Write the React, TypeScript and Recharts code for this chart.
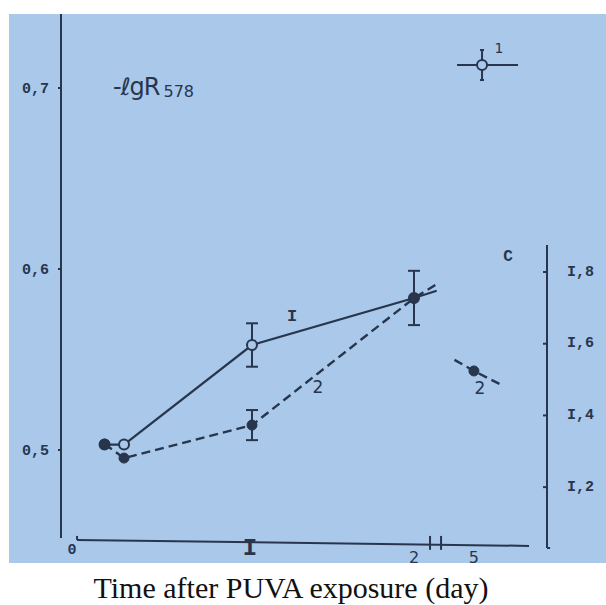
import React from 'react';
import { ComposedChart, Line, XAxis, YAxis, ReferenceLine, ReferenceDot, ErrorBar } from 'recharts';

// x is in axis units: days up to 2, then the axis is broken and day 5 sits at 2.37
const xTickPos = [0, 1, 2, 2.37];
const xTickLabels = ['0', 'I', '2', '5'];
const leftTicks = [0.5, 0.6, 0.7];
const rightTicks = [1.2, 1.4, 1.6, 1.8];

// curve 1: -lgR578 (left axis), solid
const curve1X = [0.09, 0.21, 1, 2, 2.14];
const curve1Y = [0.503, 0.503, 0.558, 0.584, 0.588];
const curve1Err = [0, 0, 0.012, 0.015, 0];

// curve 2: C (right axis), dashed
const curve2X = [0.09, 0.21, 1, 2, 2.15];
const curve2C = [1.32, 1.281, 1.373, 1.727, 1.769];
const curve2Err = [0, 0, 0.042, 0, 0];

// curve 2 after the break (day 5)
const day5X = [2.25, 2.37, 2.54];
const day5C = [1.555, 1.524, 1.485];

const xDomain = [-0.179, 2.821];
const leftDomain = [0.4486, 0.7409];
const rightDomain = [1.0441, 2.5197];

const ink = '#27364d';
const paper = '#a9c8ea';
const mono = '"Liberation Mono", "DejaVu Sans Mono", monospace';
const sans = '"DejaVu Sans", sans-serif';

const data1 = curve1X.map((x, i) => ({ x, y: curve1Y[i], err: curve1Err[i] }));
const data2 = curve2X.map((x, i) => ({ x, c: curve2C[i], err: curve2Err[i] }));
const data5 = day5X.map((x, i) => ({ x, c: day5C[i] }));

const dot1 = (p: any) => {
  if (p.index === data1.length - 1) return <g key={`d1-${p.index}`} />;
  const filled = p.index === 0;
  return (
    <circle key={`d1-${p.index}`} cx={p.cx} cy={p.cy} r={5}
      fill={filled ? ink : paper} stroke={ink} strokeWidth={2} />
  );
};

const dot2 = (p: any) => {
  if (p.index === data2.length - 1) return <g key={`d2-${p.index}`} />;
  return <circle key={`d2-${p.index}`} cx={p.cx} cy={p.cy} r={5} fill={ink} stroke={ink} />;
};

const dot5 = (p: any) => {
  if (p.index !== 1) return <g key={`d5-${p.index}`} />;
  return <circle key={`d5-${p.index}`} cx={p.cx} cy={p.cy} r={5} fill={ink} stroke={ink} />;
};

const XTick = (p: any) => {
  const i = xTickPos.indexOf(p.payload.value);
  const label = xTickLabels[i] ?? '';
  if (label === '0') {
    return <text x={p.x - 18} y={p.y + 7} fill={ink} fontFamily={mono} fontSize={15} fontWeight="bold" textAnchor="middle" dominantBaseline="central">{label}</text>;
  }
  if (label === 'I') {
    return <text x={p.x - 2} y={p.y + 5} fill={ink} fontFamily={mono} fontSize={24} fontWeight="bold" textAnchor="middle" dominantBaseline="central">{label}</text>;
  }
  return <text x={p.x} y={p.y + 14} fill={ink} fontFamily={sans} fontSize={16} textAnchor="middle" dominantBaseline="central">{label}</text>;
};

const RightTick = (p: any) => {
  const label = p.payload.value.toFixed(1).replace('1', 'I').replace('.', ',');
  return (
    <g>
      <line x1={p.x - 4} x2={p.x} y1={p.y} y2={p.y} stroke={ink} strokeWidth={2} />
      <text x={p.x + 20} y={p.y} fill={ink} fontFamily={mono} fontSize={15} fontWeight="bold" dominantBaseline="central">{label}</text>
    </g>
  );
};

const textShape = (content: React.ReactNode, size: number, family = sans, weight = 'normal') => (p: any) => (
  <text x={p.cx} y={p.cy} fill={ink} fontFamily={family} fontSize={size} fontWeight={weight}
    textAnchor="middle" dominantBaseline="central">{content}</text>
);

const titleShape = (p: any) => (
  <text x={p.cx} y={p.cy} fill={ink} fontFamily={sans}>
    <tspan fontSize={24} letterSpacing={-1}>-ℓgR</tspan>
    <tspan fontSize={16} dx={4} dy={2}>578</tspan>
  </text>
);

const legendShape = (p: any) => (
  <g stroke={ink} strokeWidth={2}>
    <line x1={p.cx - 25} x2={p.cx + 36} y1={p.cy} y2={p.cy} />
    <line x1={p.cx} x2={p.cx} y1={p.cy - 15} y2={p.cy + 15} />
    <line x1={p.cx - 2} x2={p.cx + 2} y1={p.cy - 15} y2={p.cy - 15} />
    <line x1={p.cx - 2} x2={p.cx + 2} y1={p.cy + 15} y2={p.cy + 15} />
    <circle cx={p.cx} cy={p.cy} r={5} fill={paper} />
  </g>
);

const seg = (x1: number, y1: number, x2: number, y2: number) => [{ x: x1, y: y1 }, { x: x2, y: y2 }];

export default function App() {
  return (
    <div style={{ position: 'relative', width: 606, height: 605, background: '#fff' }}>
      <style>{'body{margin:0}'}</style>
      <div style={{ position: 'absolute', left: 9, top: 14, width: 597, height: 549, background: paper }} />
      <div style={{ position: 'absolute', left: 0, top: 0 }}>
        <ComposedChart width={606} height={565} margin={{ top: 14, right: 0, bottom: 0, left: 0 }}>
          <XAxis dataKey="x" type="number" domain={xDomain} ticks={xTickPos} allowDataOverflow
            axisLine={false} tickLine={false} tickSize={0} tickMargin={0} height={22} tick={XTick} />
          <YAxis yAxisId="left" type="number" domain={leftDomain} ticks={leftTicks} allowDataOverflow
            width={61} axisLine={false} tickLine={{ stroke: ink, strokeWidth: 2 }} tickSize={3} tickMargin={9}
            tickFormatter={(v: number) => v.toFixed(1).replace('.', ',')}
            tick={{ fill: ink, fontFamily: mono, fontSize: 15, fontWeight: 'bold' }} />
          <YAxis yAxisId="right" orientation="right" type="number" domain={rightDomain} ticks={rightTicks}
            allowDataOverflow width={59} axisLine={false} tickLine={false} tickSize={0} tickMargin={0} tick={RightTick} />

          {/* hand-drawn axis lines */}
          <ReferenceLine yAxisId="left" segment={seg(xDomain[0], 0.4514, xDomain[0], leftDomain[1])} stroke={ink} strokeWidth={2} ifOverflow="visible" />
          <ReferenceLine yAxisId="left" segment={seg(-0.08, 0.4503, 2.71, 0.447)} stroke={ink} strokeWidth={2} ifOverflow="visible" />
          <ReferenceLine yAxisId="left" segment={seg(-0.08, 0.4503, -0.08, 0.4525)} stroke={ink} strokeWidth={2} ifOverflow="visible" />
          <ReferenceLine yAxisId="left" segment={seg(2.099, 0.4448, 2.099, 0.4525)} stroke={ink} strokeWidth={2} ifOverflow="visible" />
          <ReferenceLine yAxisId="left" segment={seg(2.167, 0.4448, 2.167, 0.4525)} stroke={ink} strokeWidth={2} ifOverflow="visible" />
          <ReferenceLine yAxisId="right" segment={seg(xDomain[1], 1.0301, xDomain[1], 1.8753)} stroke={ink} strokeWidth={2} ifOverflow="visible" />
          <ReferenceLine yAxisId="right" segment={seg(xDomain[1], 1.0301, 2.84, 1.0301)} stroke={ink} strokeWidth={2} ifOverflow="visible" />

          <Line yAxisId="left" data={data1} dataKey="y" stroke={ink} strokeWidth={2.2} dot={dot1}
            activeDot={false} isAnimationActive={false}>
            <ErrorBar dataKey="err" direction="y" width={6} stroke={ink} strokeWidth={2} />
          </Line>
          <Line yAxisId="right" data={data2} dataKey="c" stroke={ink} strokeWidth={2.4} strokeDasharray="9 5"
            dot={dot2} activeDot={false} isAnimationActive={false}>
            <ErrorBar dataKey="err" direction="y" width={6} stroke={ink} strokeWidth={2} />
          </Line>
          <Line yAxisId="right" data={data5} dataKey="c" stroke={ink} strokeWidth={2.4} strokeDasharray="9 5"
            dot={dot5} activeDot={false} isAnimationActive={false} />

          <ReferenceDot yAxisId="left" x={0.142} y={0.6961} shape={titleShape} />
          <ReferenceDot yAxisId="left" x={2.42} y={0.7127} shape={legendShape} />
          <ReferenceDot yAxisId="left" x={2.525} y={0.722} shape={textShape('1', 14)} />
          <ReferenceDot yAxisId="left" x={1.247} y={0.574} shape={textShape('I', 17, mono, 'bold')} />
          <ReferenceDot yAxisId="right" x={1.407} y={1.479} shape={textShape('2', 17)} />
          <ReferenceDot yAxisId="right" x={2.407} y={1.476} shape={textShape('2', 17)} />
          <ReferenceDot yAxisId="right" x={2.58} y={1.842} shape={textShape('C', 16, mono, 'bold')} />
        </ComposedChart>
      </div>
      <div style={{ position: 'absolute', left: 0, top: 573, width: 582, textAlign: 'center',
        fontFamily: '"Liberation Serif", serif', fontSize: 30, lineHeight: '30px', color: '#111' }}>
        Time after PUVA exposure (day)
      </div>
    </div>
  );
}
